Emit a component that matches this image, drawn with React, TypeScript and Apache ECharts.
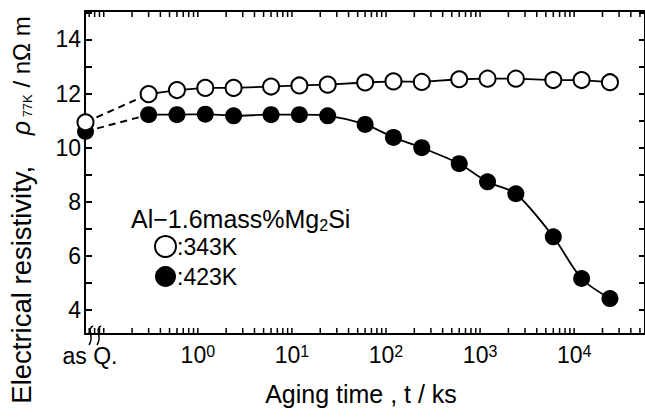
import { useEffect, useRef } from "react";
import * as echarts from "echarts";

// Aging times (ks) of the aged specimens, and the "as quenched" position on the broken axis
const AS_Q_TIME = 0.064;
const AGING_TIMES = [0.3, 0.6, 1.2, 2.4, 6, 12, 24, 60, 120, 240, 600, 1200, 2400, 6000, 12000, 24000];
// Electrical resistivity at 77 K (nΩ m)
const RHO_343K = [11.98, 12.13, 12.21, 12.21, 12.26, 12.3, 12.33, 12.41, 12.45, 12.43, 12.53, 12.55, 12.55, 12.5, 12.5, 12.42];
const RHO_423K = [11.22, 11.22, 11.24, 11.18, 11.22, 11.22, 11.18, 10.86, 10.38, 10.0, 9.41, 8.74, 8.3, 6.71, 5.17, 4.43];
const AS_Q_343K = 10.94;
const AS_Q_423K = 10.6;
// Axis labels
const Y_TICK_LABELS = [4, 6, 8, 10, 12, 14];
const X_TICK_EXPONENTS = [0, 1, 2, 3, 4];
const X_MIN = 0.0632;
const X_MAX = 56600;
const Y_MIN = 3.12;
const Y_MAX = 15.05;

const FONT = "'Liberation Sans', Arial, Helvetica, sans-serif";
const BLACK = "#000";

export default function App() {
  const ref = useRef<HTMLDivElement>(null);

  useEffect(() => {
    if (!ref.current) return;
    const chart = echarts.init(ref.current, null, { renderer: "svg" });

    const logTicks: number[] = [];
    for (let e = -2; e <= 4; e++) {
      for (let m = 1; m <= 9; m++) {
        const v = m * Math.pow(10, e);
        if (v >= 0.069 && v <= X_MAX) logTicks.push(v);
      }
    }

    const xLabel = (value: number) => {
      const e = Math.round(Math.log10(value));
      if (Math.abs(Math.log10(value) - e) > 1e-6) return "";
      if (X_TICK_EXPONENTS.indexOf(e) < 0) return "";
      return "{b|10}{s|" + e + "}";
    };
    const yLabel = (value: number) => {
      const r = Math.round(value);
      if (Math.abs(value - r) > 1e-6) return "";
      return Y_TICK_LABELS.indexOf(r) >= 0 ? String(r) : "";
    };

    const pts = (xs: number[], ys: number[]) => xs.map((t, i) => [t, ys[i]]);

    const openStyle = { color: "#fff", borderColor: BLACK, borderWidth: 2, opacity: 1 };
    const filledStyle = { color: BLACK, borderWidth: 0, opacity: 1 };

    const option: any = {
      animation: false,
      textStyle: { fontFamily: FONT },
      grid: { left: 85, top: 11, width: 561, height: 323, containLabel: false },
      xAxis: [
        {
          type: "log",
          logBase: 10,
          min: X_MIN,
          max: X_MAX,
          position: "bottom",
          axisLine: { show: true, onZero: false, lineStyle: { color: BLACK, width: 2 } },
          axisTick: { show: false },
          splitLine: { show: false },
          axisLabel: {
            show: true,
            formatter: xLabel,
            margin: 9,
            color: BLACK,
            showMinLabel: false,
            showMaxLabel: false,
            hideOverlap: false,
            rich: {
              b: { fontSize: 23, fontFamily: FONT, color: BLACK },
              s: { fontSize: 16, fontFamily: FONT, color: BLACK, verticalAlign: "top", padding: [0, 0, 4, 0] },
            },
          },
        },
        {
          type: "log",
          logBase: 10,
          min: X_MIN,
          max: X_MAX,
          position: "top",
          axisLine: { show: true, onZero: false, lineStyle: { color: BLACK, width: 2 } },
          axisTick: { show: false },
          axisLabel: { show: false },
          splitLine: { show: false },
        },
      ],
      yAxis: [
        {
          type: "value",
          min: Y_MIN,
          max: Y_MAX,
          minInterval: 1,
          maxInterval: 1,
          position: "left",
          axisLine: { show: true, onZero: false, lineStyle: { color: BLACK, width: 2 } },
          axisTick: { show: true, inside: true, length: 7, lineStyle: { color: BLACK, width: 2 } },
          axisLabel: { formatter: yLabel, fontSize: 23, color: BLACK, margin: 4, fontFamily: FONT, showMinLabel: false, showMaxLabel: false },
          splitLine: { show: false },
        },
        {
          type: "value",
          min: Y_MIN,
          max: Y_MAX,
          minInterval: 1,
          maxInterval: 1,
          position: "right",
          axisLine: { show: true, onZero: false, lineStyle: { color: BLACK, width: 2 } },
          axisTick: { show: true, inside: true, length: 6, lineStyle: { color: BLACK, width: 2 } },
          axisLabel: { show: false },
          splitLine: { show: false },
        },
      ],
      legend: {
        orient: "vertical",
        left: 154,
        top: 235,
        padding: 0,
        itemGap: 7,
        itemWidth: 21,
        itemHeight: 21,
        textStyle: { fontSize: 23, color: BLACK, fontFamily: FONT, padding: [0, 0, 0, -4] },
        formatter: (name: string) => ":" + name,
        data: [
          { name: "343K", icon: "circle", itemStyle: { color: "#fff", borderColor: BLACK, borderWidth: 2 } },
          { name: "423K", icon: "circle", itemStyle: { color: BLACK, borderWidth: 0 } },
        ],
      },
      graphic: [
        {
          type: "text",
          x: 21,
          y: 210,
          rotation: Math.PI / 2,
          style: {
            text: "{a|Electrical resistivity,}{a|    }{r|ρ}{s| 77K}{b| / nΩ m}",
            align: "center",
            verticalAlign: "middle",
            fill: BLACK,
            rich: {
              a: { fontSize: 27.5, fontFamily: FONT, fill: BLACK, lineHeight: 30 },
              r: { fontSize: 25, fontFamily: FONT, fontStyle: "italic", fill: BLACK, lineHeight: 30 },
              s: { fontSize: 13, fontFamily: FONT, fill: BLACK, verticalAlign: "bottom", lineHeight: 30, padding: [0, 0, 2, 0] },
              b: { fontSize: 24, fontFamily: FONT, fill: BLACK, lineHeight: 30 },
            },
          },
        },
        {
          type: "text",
          x: 361,
          y: 394,
          style: {
            text: "Aging time , t / ks",
            font: "25px " + FONT,
            align: "center",
            verticalAlign: "middle",
            fill: BLACK,
          },
        },
        {
          type: "text",
          x: 90,
          y: 356,
          style: {
            text: "as Q.",
            font: "23px " + FONT,
            align: "center",
            verticalAlign: "middle",
            fill: BLACK,
          },
        },
        {
          type: "text",
          x: 131,
          y: 219,
          style: {
            text: "{a|Al−1.6mass%Mg}{s|2}{a|Si}",
            align: "left",
            verticalAlign: "middle",
            fill: BLACK,
            rich: {
              a: { fontSize: 25, fontFamily: FONT, fill: BLACK, lineHeight: 28 },
              s: { fontSize: 16, fontFamily: FONT, fill: BLACK, verticalAlign: "bottom", lineHeight: 28 },
            },
          },
        },
        {
          type: "bezierCurve",
          shape: { x1: 93, y1: 326, cpx1: 86, cpy1: 329, cpx2: 95, cpy2: 337, x2: 89, y2: 345 },
          style: { stroke: BLACK, lineWidth: 1.5, fill: "none" },
        },
        {
          type: "bezierCurve",
          shape: { x1: 101, y1: 326, cpx1: 94, cpy1: 329, cpx2: 103, cpy2: 337, x2: 97, y2: 345 },
          style: { stroke: BLACK, lineWidth: 1.5, fill: "none" },
        },
      ],
      series: [
        {
          type: "custom",
          name: "logTicks",
          xAxisIndex: 0,
          yAxisIndex: 0,
          silent: true,
          clip: false,
          data: logTicks.map((v) => [v]),
          encode: { x: 0 },
          renderItem: (_params: any, api: any) => {
            const t = api.value(0);
            const pb = api.coord([t, Y_MIN]);
            const pt = api.coord([t, Y_MAX]);
            return {
              type: "group",
              children: [
                { type: "line", shape: { x1: pb[0], y1: pb[1], x2: pb[0], y2: pb[1] - 6 }, style: { stroke: BLACK, lineWidth: 1.5 } },
                { type: "line", shape: { x1: pt[0], y1: pt[1], x2: pt[0], y2: pt[1] + 6 }, style: { stroke: BLACK, lineWidth: 1.5 } },
              ],
            };
          },
        },
        {
          type: "line",
          name: "asQ423",
          data: [
            { value: [AS_Q_TIME, AS_Q_423K], symbol: "circle", symbolSize: 17, itemStyle: filledStyle },
            { value: [AGING_TIMES[0], RHO_423K[0]], symbol: "none" },
          ],
          showSymbol: true,
          clip: false,
          z: 2,
          lineStyle: { color: BLACK, width: 2, type: [7, 5] },
        },
        {
          type: "line",
          name: "asQ343",
          data: [
            { value: [AS_Q_TIME, AS_Q_343K], symbol: "circle", symbolSize: 16, itemStyle: openStyle },
            { value: [AGING_TIMES[0], RHO_343K[0]], symbol: "none" },
          ],
          showSymbol: true,
          clip: false,
          z: 2,
          lineStyle: { color: BLACK, width: 2, type: [7, 5] },
        },
        {
          type: "line",
          name: "423K",
          data: pts(AGING_TIMES, RHO_423K),
          symbol: "circle",
          symbolSize: 17,
          smooth: 0.3,
          z: 3,
          itemStyle: filledStyle,
          lineStyle: { color: BLACK, width: 1.8 },
        },
        {
          type: "line",
          name: "343K",
          data: pts(AGING_TIMES, RHO_343K),
          symbol: "circle",
          symbolSize: 16,
          z: 3,
          itemStyle: openStyle,
          lineStyle: { color: BLACK, width: 1.8 },
        },
      ],
    };

    chart.setOption(option);
    return () => chart.dispose();
  }, []);

  return (
    <div
      ref={ref}
      style={{ position: "fixed", left: 0, top: 0, width: 645, height: 420, background: "#fff" }}
    />
  );
}
